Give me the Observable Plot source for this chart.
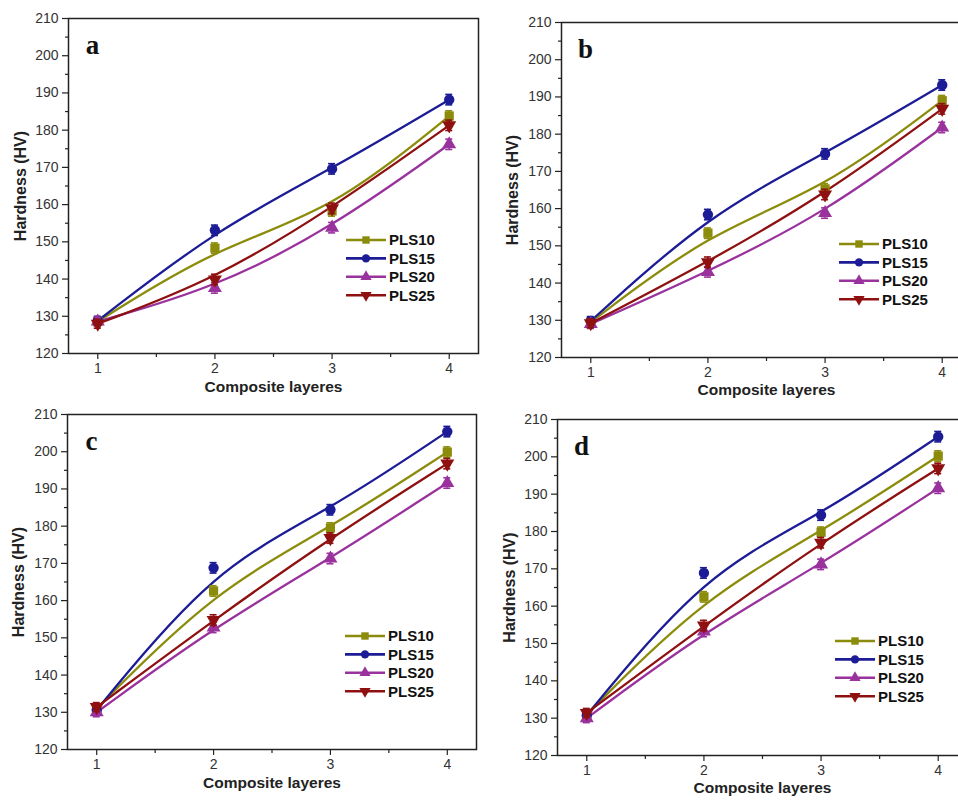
<!DOCTYPE html>
<html><head><meta charset="utf-8">
<script src="https://cdn.jsdelivr.net/npm/d3@7"></script>
<script src="https://cdn.jsdelivr.net/npm/@observablehq/plot@0.6"></script>
<style>
html,body{margin:0;padding:0;background:#fff;overflow:hidden}
#wrap{position:relative;width:958px;height:800px;overflow:hidden;background:#fff}
.panel{position:absolute}
.panel svg{max-width:none !important}
</style></head><body><div id="wrap"></div>
<script>
// ---- data ----
const layers = [1, 2, 3, 4];
const seriesNames = ["PLS10", "PLS15", "PLS20", "PLS25"];
const yTicks = [120, 130, 140, 150, 160, 170, 180, 190, 200, 210];
const yMinor = [125, 135, 145, 155, 165, 175, 185, 195, 205];
const xMinor = [1.5, 2.5, 3.5];
const layerErr = [1.2, 1.4, 1.4, 1.4];

const panelA_PLS10 = [128.6, 148.3, 158.3, 183.8];
const panelA_PLS15 = [128.8, 153.1, 169.6, 188.2];
const panelA_PLS20 = [128.6, 137.6, 153.8, 176.2];
const panelA_PLS25 = [128.0, 139.9, 159.0, 181.3];

const panelB_PLS10 = [129.5, 153.4, 165.3, 189.0];
const panelB_PLS15 = [129.8, 158.4, 174.7, 193.2];
const panelB_PLS20 = [129.0, 143.0, 158.8, 181.8];
const panelB_PLS25 = [129.2, 145.6, 163.8, 186.8];

const panelC_PLS10 = [131.0, 162.6, 179.5, 199.9];
const panelC_PLS15 = [130.6, 168.8, 184.4, 205.4];
const panelC_PLS20 = [130.0, 152.8, 171.3, 191.6];
const panelC_PLS25 = [131.4, 154.8, 176.8, 196.8];

const panelD_PLS10 = [131.0, 162.5, 179.8, 200.2];
const panelD_PLS15 = [130.8, 168.9, 184.4, 205.4];
const panelD_PLS20 = [130.0, 153.2, 171.2, 191.6];
const panelD_PLS25 = [131.4, 154.8, 177.0, 196.9];

// ---- styles ----
const colors = ["#8c8c0c", "#1c1c96", "#9a329e", "#8e1010"];
const symbols = ["square", "circle", "triangle", "triangle"];
const rotations = [0, 0, 0, 180];
const FONT = "'Liberation Sans', Arial, sans-serif";

const panels = [
  {letter: "a", left: 0, top: 0, width: 479, ml: 68, mr: 1, mt: 18, mb: 47, xdy: 34, ydx: -48,
   values: [panelA_PLS10, panelA_PLS15, panelA_PLS20, panelA_PLS25]},
  {letter: "b", left: 479, top: 0, width: 500, ml: 82, mr: 8, mt: 22, mb: 43, xdy: 33, ydx: -49,
   values: [panelB_PLS10, panelB_PLS15, panelB_PLS20, panelB_PLS25]},
  {letter: "c", left: 0, top: 400, width: 479, ml: 67, mr: 3, mt: 14, mb: 51, xdy: 34, ydx: -49,
   values: [panelC_PLS10, panelC_PLS15, panelC_PLS20, panelC_PLS25]},
  {letter: "d", left: 479, top: 400, width: 500, ml: 78, mr: 12, mt: 19, mb: 45, xdy: 33, ydx: -48,
   values: [panelD_PLS10, panelD_PLS15, panelD_PLS20, panelD_PLS25]}
];

function build(p) {
  const rows = [];
  seriesNames.forEach((s, i) => layers.forEach((x, j) =>
    rows.push({series: s, x, y: p.values[i][j], e: layerErr[j]})));

  const marks = [
    Plot.axisY(yMinor, {tickSize: 3, tickFormat: () => "", label: null, strokeWidth: 1.2, stroke: "#222"}),
    Plot.axisY(yTicks, {tickSize: 6, tickPadding: 4, fontSize: 14, label: null, strokeWidth: 1.2, stroke: "#222", fill: "#333"}),
    Plot.axisX(xMinor, {tickSize: 4, tickFormat: () => "", label: null, strokeWidth: 1.2, stroke: "#222"}),
    Plot.axisX(layers, {tickSize: 6, tickPadding: 4, fontSize: 14, tickFormat: d3.format("d"), label: null, strokeWidth: 1.2, stroke: "#222", fill: "#333"}),
    Plot.frame({stroke: "#222", strokeWidth: 1.5}),
    Plot.text(["Composite layeres"], {text: d => d, frameAnchor: "bottom", dy: p.xdy, lineAnchor: "middle",
      fontSize: 15.5, fontWeight: "bold", fill: "#222"}),
    Plot.text(["Hardness (HV)"], {text: d => d, frameAnchor: "left", dx: p.ydx, rotate: -90, lineAnchor: "middle",
      textAnchor: "middle", fontSize: 16, fontWeight: "bold", fill: "#222"}),
    Plot.text([p.letter], {text: d => d, frameAnchor: "top-left", dx: 24, dy: 27, textAnchor: "middle",
      lineAnchor: "middle", fontSize: 27, fontWeight: "bold", fontFamily: "'Liberation Serif', 'Times New Roman', serif", fill: "#111"}),
    Plot.line(rows, {x: "x", y: "y", z: "series", stroke: "series", curve: "basis", strokeWidth: 2.3})
  ];
  seriesNames.forEach((s, i) => {
    const d = rows.filter(r => r.series === s);
    marks.push(Plot.ruleX(d, {x: "x", y1: r => r.y - r.e, y2: r => r.y + r.e, stroke: colors[i], strokeWidth: 1.6}));
    marks.push(Plot.ruleY(d, {y: r => r.y + r.e, x1: r => r.x - 0.03, x2: r => r.x + 0.03, stroke: colors[i], strokeWidth: 1.6}));
    marks.push(Plot.ruleY(d, {y: r => r.y - r.e, x1: r => r.x - 0.03, x2: r => r.x + 0.03, stroke: colors[i], strokeWidth: 1.6}));
    marks.push(Plot.dot(d, {x: "x", y: "y", symbol: symbols[i], rotate: rotations[i], fill: colors[i], r: 5.2, stroke: "none"}));
  });

  const svg = Plot.plot({
    width: p.width, height: 400,
    marginLeft: p.ml, marginRight: p.mr, marginTop: p.mt, marginBottom: p.mb,
    x: {domain: [0.75, 4.25], axis: null},
    y: {domain: [120, 210], axis: null},
    color: {domain: seriesNames, range: colors},
    style: {fontFamily: FONT, background: "transparent", color: "#222", overflow: "visible", maxWidth: "none"},
    marks
  });

  // legend inside the frame
  const g = d3.select(svg).append("g").attr("transform", `translate(${p.ml},${p.mt})`)
    .attr("font-family", FONT).attr("text-anchor", "start");
  seriesNames.forEach((s, i) => {
    const yy = 222 + i * 18.4;
    g.append("line").attr("x1", 278).attr("x2", 318).attr("y1", yy).attr("y2", yy)
      .attr("stroke", colors[i]).attr("stroke-width", 2.6);
    const sym = i === 0 ? d3.symbolSquare : i === 1 ? d3.symbolCircle : d3.symbolTriangle;
    g.append("path").attr("d", d3.symbol(sym, 55)())
      .attr("transform", `translate(298,${yy}) rotate(${rotations[i]})`).attr("fill", colors[i]);
    g.append("text").attr("x", 321).attr("y", yy).attr("dy", "0.36em")
      .attr("font-size", 15).attr("font-weight", "bold").attr("fill", "#111").text(s);
  });

  const div = document.createElement("div");
  div.className = "panel";
  div.style.left = p.left + "px";
  div.style.top = p.top + "px";
  div.style.width = p.width + "px";
  div.appendChild(svg);
  document.getElementById("wrap").appendChild(div);
}
panels.forEach(build);
</script></body></html>
